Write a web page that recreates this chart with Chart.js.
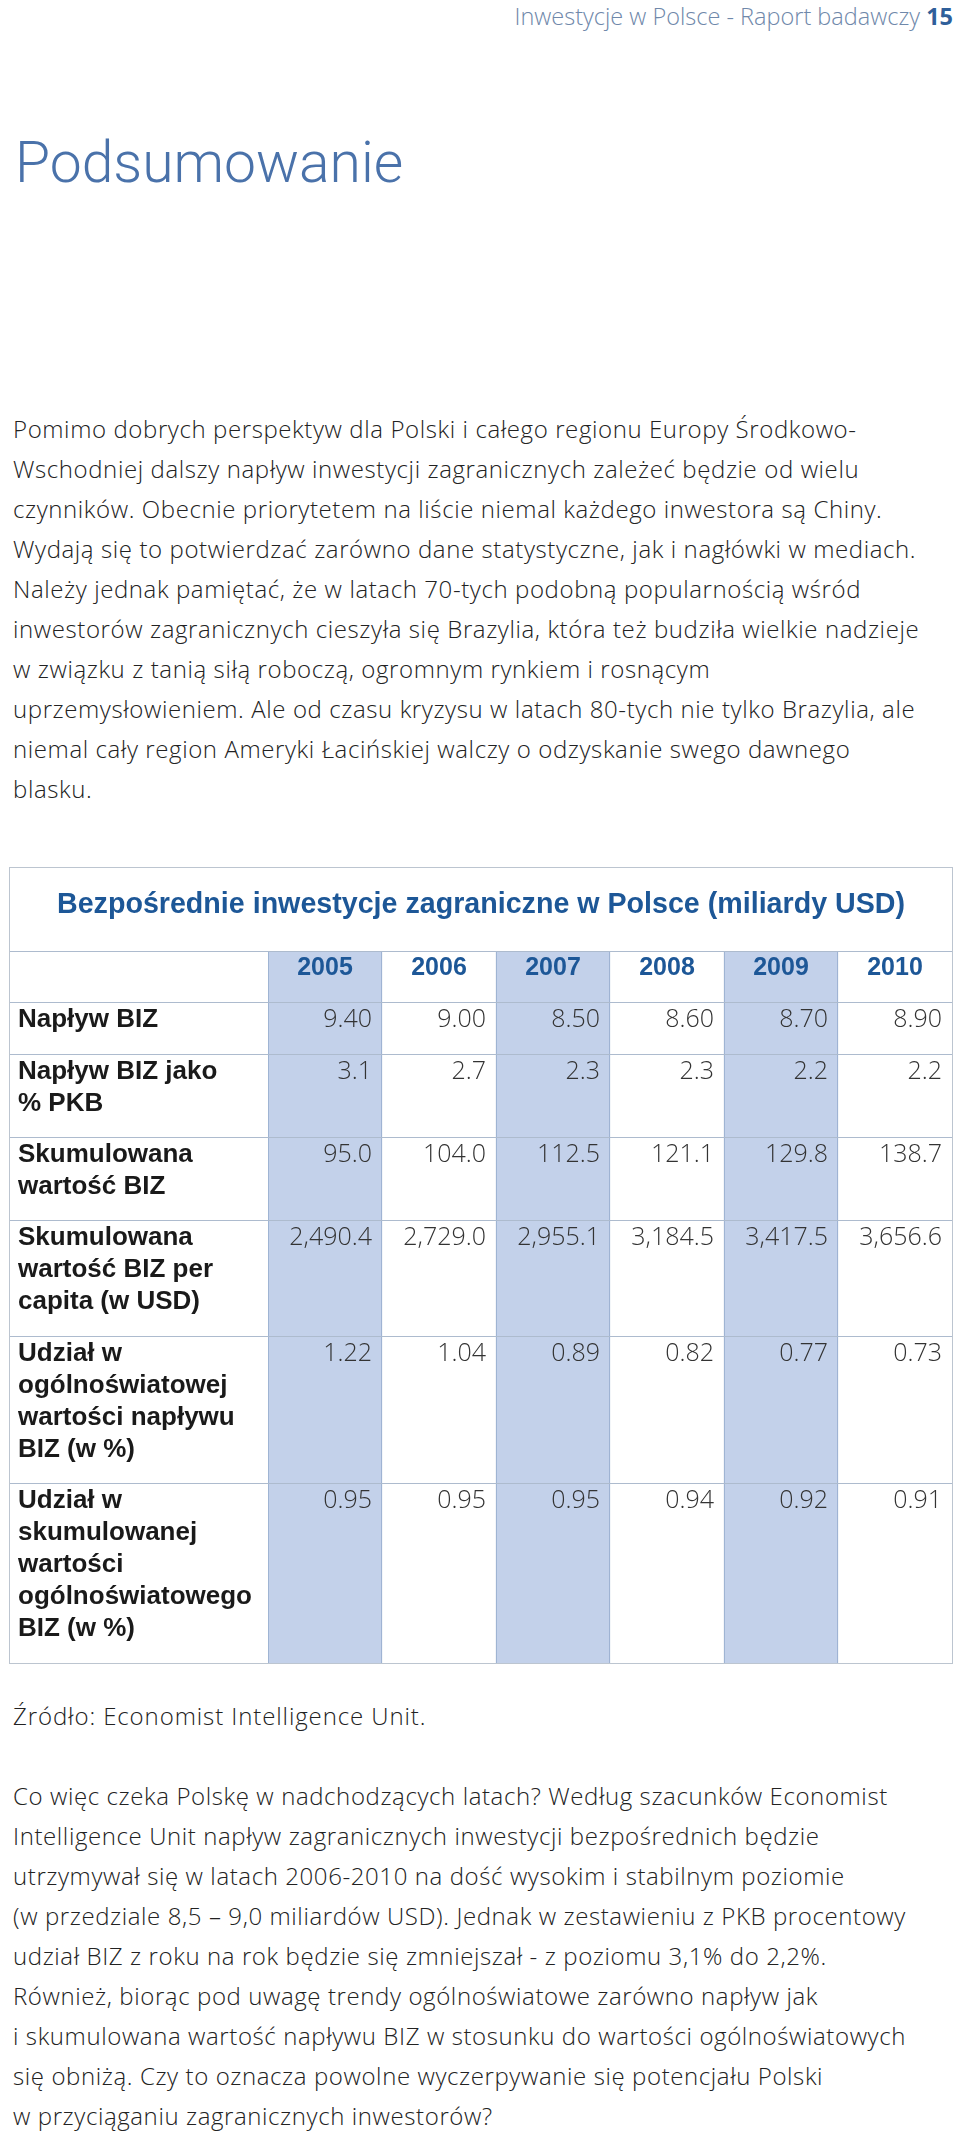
<!DOCTYPE html>
<html lang="pl">
<head>
<meta charset="utf-8">
<script src="https://cdn.jsdelivr.net/npm/chart.js@4.4.1/dist/chart.umd.min.js"></script>
<style>
    body {
        margin: 0;
        width: 960px;
        height: 2134px;
        position: relative;
        overflow: hidden;
        background: #fff;
        font-family: "Open Sans", sans-serif;
        font-weight: 300;
        color: #222;
    }

    .naglowek {
        position: absolute;
        right: 7px;
        top: 1px;
        font-size: 23.5px;
        line-height: 30px;
        color: #6f88aa;
        white-space: nowrap;
    }

    .naglowek b {
        color: #2f5f9a;
        font-weight: 700;
    }

    h1 {
        position: absolute;
        left: 15px;
        top: 128px;
        margin: 0;
        font-family: Roboto, sans-serif;
        font-weight: 300;
        font-size: 57px;
        line-height: 70px;
        color: #4a72aa;
    }

    .tekst {
        position: absolute;
        left: 13px;
        margin: 0;
        font-size: 24px;
        letter-spacing: 0.6px;
        line-height: 40px;
        white-space: nowrap;
    }

    #tabela {
        position: absolute;
        left: 9px;
        top: 867px;
        width: 944px;
        height: 797px;
    }
</style>
</head>
<body>

<div class="naglowek">Inwestycje w Polsce - Raport badawczy <b>15</b></div>

<h1>Podsumowanie</h1>

<p class="tekst" style="top: 409px;">
Pomimo dobrych perspektyw dla Polski i całego regionu Europy Środkowo-<br>
Wschodniej dalszy napływ inwestycji zagranicznych zależeć będzie od wielu<br>
czynników. Obecnie priorytetem na liście niemal każdego inwestora są Chiny.<br>
Wydają się to potwierdzać zarówno dane statystyczne, jak i nagłówki w mediach.<br>
Należy jednak pamiętać, że w latach 70-tych podobną popularnością wśród<br>
inwestorów zagranicznych cieszyła się Brazylia, która też budziła wielkie nadzieje<br>
w związku z tanią siłą roboczą, ogromnym rynkiem i rosnącym<br>
uprzemysłowieniem. Ale od czasu kryzysu w latach 80-tych nie tylko Brazylia, ale<br>
niemal cały region Ameryki Łacińskiej walczy o odzyskanie swego dawnego<br>
blasku.
</p>

<div id="tabela"><canvas id="wykres" width="944" height="797"></canvas></div>

<p class="tekst" style="top: 1696px; letter-spacing: 0.9px;">Źródło: Economist Intelligence Unit.</p>

<p class="tekst" style="top: 1776px;">
Co więc czeka Polskę w nadchodzących latach? Według szacunków Economist<br>
Intelligence Unit napływ zagranicznych inwestycji bezpośrednich będzie<br>
utrzymywał się w latach 2006-2010 na dość wysokim i stabilnym poziomie<br>
(w przedziale 8,5 – 9,0 miliardów USD). Jednak w zestawieniu z PKB procentowy<br>
udział BIZ z roku na rok będzie się zmniejszał - z poziomu 3,1% do 2,2%.<br>
Również, biorąc pod uwagę trendy ogólnoświatowe zarówno napływ jak<br>
i skumulowana wartość napływu BIZ w stosunku do wartości ogólnoświatowych<br>
się obniżą. Czy to oznacza powolne wyczerpywanie się potencjału Polski<br>
w przyciąganiu zagranicznych inwestorów?
</p>

<script>
const tytul = "Bezpośrednie inwestycje zagraniczne w Polsce (miliardy USD)";
const lata = ["2005", "2006", "2007", "2008", "2009", "2010"];

const etykiety = [
    ["Napływ BIZ"],
    ["Napływ BIZ jako", "% PKB"],
    ["Skumulowana", "wartość BIZ"],
    ["Skumulowana", "wartość BIZ per", "capita (w USD)"],
    ["Udział w", "ogólnoświatowej", "wartości napływu", "BIZ (w %)"],
    ["Udział w", "skumulowanej", "wartości", "ogólnoświatowego", "BIZ (w %)"]
];

const naplywBIZ = [9.40, 9.00, 8.50, 8.60, 8.70, 8.90];
const naplywPKB = [3.1, 2.7, 2.3, 2.3, 2.2, 2.2];
const skumulowana = [95.0, 104.0, 112.5, 121.1, 129.8, 138.7];
const skumulowanaPerCapita = [2490.4, 2729.0, 2955.1, 3184.5, 3417.5, 3656.6];
const udzialNaplyw = [1.22, 1.04, 0.89, 0.82, 0.77, 0.73];
const udzialSkumulowana = [0.95, 0.95, 0.95, 0.94, 0.92, 0.91];

const wartosci = [naplywBIZ, naplywPKB, skumulowana, skumulowanaPerCapita, udzialNaplyw, udzialSkumulowana];
const miejscaPoPrzecinku = [2, 1, 1, 1, 2, 2];
const kolumnyWyroznione = [true, false, true, false, true, false];

// wysokosc wiersza = liczba linii etykiety + margines (w jednostkach linii)
const MARGINES = 0.6;
const liczbaLinii = [1].concat(etykiety.map(e => e.length));
const granice = [0];
liczbaLinii.forEach(n => granice.push(granice[granice.length - 1] + n + MARGINES));
const razem = granice[granice.length - 1];

function formatuj(v, d) {
    return v.toLocaleString("en-US", { minimumFractionDigits: d, maximumFractionDigits: d });
}

const tekstTabeli = {
    id: "tekstTabeli",
    afterDatasetsDraw(chart) {
        const { ctx, scales: { x, y } } = chart;
        const W = chart.width;
        const H = chart.height;
        const polowa = (x.getPixelForValue(1) - x.getPixelForValue(0)) / 2;

        ctx.save();

        // linie miedzy wierszami
        ctx.strokeStyle = "#adbbce";
        ctx.lineWidth = 1;
        granice.slice(0, -1).forEach(g => {
            const py = Math.round(y.getPixelForValue(g)) + 0.5;
            ctx.beginPath();
            ctx.moveTo(0, py);
            ctx.lineTo(W, py);
            ctx.stroke();
        });

        // ramka
        ctx.strokeStyle = "#bcc5d0";
        ctx.strokeRect(0.5, 0.5, W - 1, H - 1);

        // tytul tabeli
        ctx.font = "bold 29px 'Liberation Sans', Arial, sans-serif";
        ctx.fillStyle = "#1d5797";
        ctx.textAlign = "center";
        ctx.textBaseline = "alphabetic";
        ctx.fillText(tytul, W / 2, 46, 848);

        // naglowek z latami
        ctx.font = "bold 25px 'Liberation Sans', Arial, sans-serif";
        const gora0 = y.getPixelForValue(granice[0]);
        lata.forEach((rok, i) => {
            ctx.fillText(rok, x.getPixelForValue(i), gora0 + 24);
        });

        // wiersze
        etykiety.forEach((linie, r) => {
            const gora = y.getPixelForValue(granice[r + 1]);

            ctx.font = "bold 26px 'Liberation Sans', Arial, sans-serif";
            ctx.fillStyle = "#1a1a1a";
            ctx.textAlign = "left";
            linie.forEach((linia, k) => {
                ctx.fillText(linia, 9, gora + 25 + k * 32);
            });

            ctx.font = "300 25px 'Open Sans', sans-serif";
            ctx.fillStyle = "#333333";
            ctx.textAlign = "right";
            wartosci[r].forEach((v, i) => {
                ctx.fillText(formatuj(v, miejscaPoPrzecinku[r]), x.getPixelForValue(i) + polowa - 10, gora + 25);
            });
        });

        ctx.restore();
    }
};

new Chart(document.getElementById("wykres"), {
    type: "bar",
    data: {
        labels: lata,
        datasets: [{
            data: kolumnyWyroznione.map(w => (w ? [0, razem] : null)),
            backgroundColor: "#c3d1ea",
            borderColor: "#8ea5c8",
            borderWidth: { left: 1, right: 1, top: 0, bottom: 0 },
            borderSkipped: false,
            barPercentage: 1,
            categoryPercentage: 1
        }]
    },
    options: {
        responsive: false,
        animation: false,
        layout: {
            padding: { left: 259, right: 1, top: 84, bottom: 1 }
        },
        plugins: {
            legend: { display: false },
            tooltip: { enabled: false },
            title: { display: false }
        },
        scales: {
            x: { display: false, offset: true },
            y: { display: false, reverse: true, min: 0, max: razem }
        }
    },
    plugins: [tekstTabeli]
});
</script>
</body>
</html>
